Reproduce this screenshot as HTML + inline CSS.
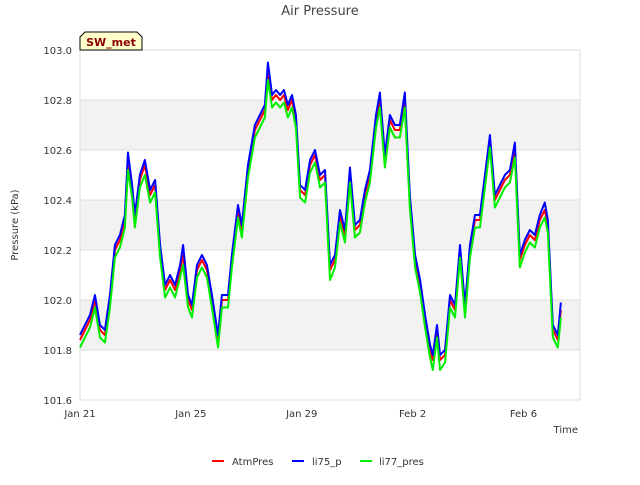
<!DOCTYPE html>
<html><head><meta charset="utf-8"><style>
body{margin:0;background:#fff;font-family:"Liberation Sans","DejaVu Sans",sans-serif}
svg text{font-family:"DejaVu Sans","Liberation Sans",sans-serif}
</style></head><body>
<svg id="chart" width="640" height="480">
<text x="320" y="15" text-anchor="middle" font-size="13" fill="#444">Air Pressure</text>
<g id="plot"></g>
<text x="18" y="225" transform="rotate(-90 18 225)" text-anchor="middle" font-size="10" fill="#333">Pressure (kPa)</text>
<text x="578" y="433" text-anchor="end" font-size="10" fill="#333">Time</text>
<g>
<path d="M80,50 L80,37 L85,32 L137,32 L142,37 L142,50 Z" fill="#ffffcc" stroke="#000" stroke-width="1"/>
<text x="111" y="46" text-anchor="middle" font-size="11" font-weight="bold" fill="#8b0000">SW_met</text>
</g>
<g>
<g><line x1="212" y1="461" x2="224" y2="461" stroke="red" stroke-width="2"/><text x="232" y="465" font-size="10" fill="#333">AtmPres</text></g>
<g><line x1="292" y1="461" x2="304" y2="461" stroke="blue" stroke-width="2"/><text x="312" y="465" font-size="10" fill="#333">li75_p</text></g>
<g><line x1="360" y1="461" x2="372" y2="461" stroke="#00ee00" stroke-width="2"/><text x="379" y="465" font-size="10" fill="#333">li77_pres</text></g>
</g>
</svg>
<script>
const days=[0,0.18,0.36,0.54,0.72,0.90,1.08,1.26,1.44,1.62,1.73,1.88,1.98,2.16,2.34,2.53,2.71,2.89,3.07,3.25,3.43,3.61,3.72,3.90,4.04,4.22,4.40,4.58,4.76,4.98,5.12,5.34,5.48,5.70,5.84,6.06,6.31,6.49,6.67,6.78,6.93,7.07,7.22,7.36,7.50,7.65,7.79,7.94,8.12,8.30,8.48,8.66,8.84,9.02,9.20,9.38,9.56,9.74,9.92,10.10,10.28,10.46,10.68,10.82,11.00,11.18,11.36,11.54,11.72,11.90,12.09,12.27,12.45,12.63,12.73,12.88,12.99,13.17,13.35,13.53,13.71,13.89,14.07,14.25,14.43,14.61,14.79,14.97,15.15,15.33,15.51,15.69,15.87,16.05,16.23,16.41,16.59,16.77,16.88,17.06,17.24,17.35];
const atmPres=[101.84,101.88,101.92,102.00,101.88,101.86,102.00,102.20,102.24,102.32,102.56,102.44,102.32,102.48,102.54,102.42,102.46,102.20,102.04,102.08,102.04,102.12,102.18,102.00,101.96,102.12,102.16,102.12,102.00,101.84,102.00,102.00,102.16,102.36,102.28,102.52,102.68,102.72,102.76,102.92,102.80,102.82,102.80,102.82,102.76,102.80,102.72,102.44,102.42,102.54,102.58,102.48,102.50,102.12,102.16,102.34,102.26,102.50,102.28,102.30,102.42,102.50,102.72,102.80,102.56,102.72,102.68,102.68,102.80,102.40,102.16,102.06,101.92,101.80,101.76,101.88,101.76,101.78,102.00,101.96,102.20,101.96,102.20,102.32,102.32,102.48,102.64,102.40,102.44,102.48,102.50,102.60,102.16,102.22,102.26,102.24,102.32,102.36,102.30,101.88,101.84,101.96];
const li75P=[101.86,101.90,101.94,102.02,101.90,101.88,102.02,102.22,102.26,102.34,102.59,102.46,102.34,102.50,102.56,102.44,102.48,102.22,102.06,102.10,102.06,102.14,102.22,102.02,101.98,102.14,102.18,102.14,102.02,101.86,102.02,102.02,102.18,102.38,102.30,102.54,102.70,102.74,102.78,102.95,102.82,102.84,102.82,102.84,102.78,102.82,102.74,102.46,102.44,102.56,102.60,102.50,102.52,102.14,102.18,102.36,102.28,102.53,102.30,102.32,102.44,102.52,102.74,102.83,102.58,102.74,102.70,102.70,102.83,102.42,102.18,102.08,101.94,101.82,101.78,101.90,101.78,101.80,102.02,101.98,102.22,101.98,102.22,102.34,102.34,102.50,102.66,102.42,102.46,102.50,102.52,102.63,102.18,102.24,102.28,102.26,102.34,102.39,102.32,101.90,101.86,101.99];
const li77Pres=[101.81,101.85,101.89,101.97,101.85,101.83,101.97,102.17,102.21,102.29,102.52,102.41,102.29,102.45,102.50,102.39,102.43,102.17,102.01,102.05,102.01,102.09,102.14,101.97,101.93,102.09,102.13,102.09,101.97,101.81,101.97,101.97,102.13,102.33,102.25,102.49,102.65,102.69,102.73,102.88,102.77,102.79,102.77,102.79,102.73,102.77,102.69,102.41,102.39,102.51,102.55,102.45,102.47,102.08,102.13,102.31,102.23,102.47,102.25,102.27,102.39,102.47,102.69,102.77,102.53,102.69,102.65,102.65,102.77,102.37,102.13,102.03,101.89,101.77,101.72,101.85,101.72,101.75,101.97,101.93,102.17,101.93,102.17,102.29,102.29,102.45,102.61,102.37,102.41,102.45,102.47,102.57,102.13,102.19,102.23,102.21,102.29,102.33,102.27,101.85,101.81,101.93];
const yTicks=[101.6,101.8,102.0,102.2,102.4,102.6,102.8,103.0];
const xTickDays=[0,4,8,12,16];
const xTickLabels=["Jan 21","Jan 25","Jan 29","Feb 2","Feb 6"];

const NS="http://www.w3.org/2000/svg";
const L=80,R=580,T=50,B=400,yMin=101.6,yMax=103.0,dMax=18.04;
const xs=d=>L+d/dMax*(R-L);
const ys=v=>B-(v-yMin)/(yMax-yMin)*(B-T);
const plot=document.getElementById('plot');
function mk(tag,attrs){const e=document.createElementNS(NS,tag);for(const k in attrs)e.setAttribute(k,attrs[k]);plot.appendChild(e);return e;}
for(let i=0;i<yTicks.length-1;i++){
  if(i%2===1){const b=mk('rect',{x:L,y:ys(yTicks[i+1]),width:R-L,height:ys(yTicks[i])-ys(yTicks[i+1]),fill:'#f2f2f2'});
  
  }
}
yTicks.forEach(v=>{
  const g=mk('line',{x1:L,x2:R,y1:ys(v),y2:ys(v),stroke:'#dddddd','stroke-width':1});
  
  
  const t=mk('text',{x:L-8,y:ys(v)+4,'text-anchor':'end','font-size':10,fill:'#333'});
  t.textContent=v.toFixed(1);
  
  
});
xTickDays.forEach((d,i)=>{
  const t=mk('text',{x:xs(d),y:B+17,'text-anchor':'middle','font-size':10,fill:'#333'});
  t.textContent=xTickLabels[i];
  
  
});
const fr=mk('rect',{x:L,y:T,width:R-L,height:B-T,fill:'none',stroke:'#dddddd'});


function series(vals,color,name){
  const p=mk('polyline',{points:vals.map((v,i)=>xs(days[i])+','+ys(v)).join(' '),fill:'none',stroke:color,'stroke-width':2,'stroke-linejoin':'round'});
  
  
}
series(atmPres,'red','atmpres-line');
series(li75P,'blue','li75-p-line');
series(li77Pres,'#00ee00','li77-pres-line');
</script>
</body></html>
